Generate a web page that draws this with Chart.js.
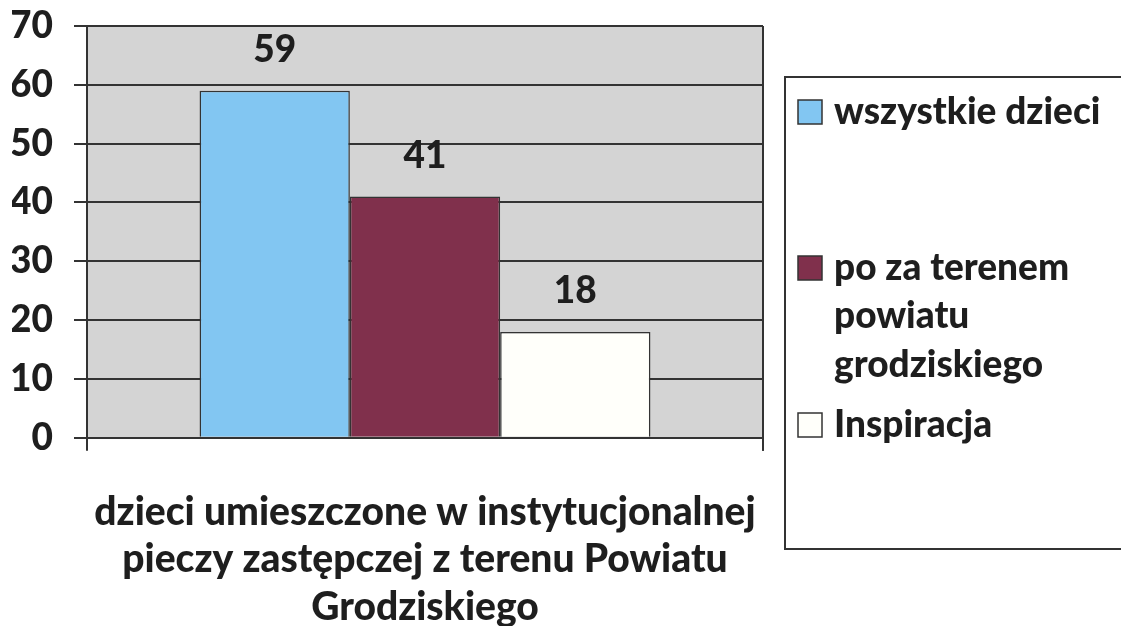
<!DOCTYPE html>
<html>
<head>
<meta charset="utf-8">
<script src="https://cdn.jsdelivr.net/npm/chart.js@4"></script>
<style>
  body { margin: 0; background: #fff; }
  #wrap { width: 1121px; height: 626px; position: relative; }
</style>
</head>
<body>
<div id="wrap"><canvas id="myChart"></canvas></div>
<script>
const categories = [""];
const seriesNames = ["wszystkie dzieci", "po za terenem powiatu grodziskiego", "Inspiracja"];
const seriesValues = [[59], [41], [18]];
const seriesColors = ["#82c6f2", "#80304c", "#fffffa"];
const axisTitle = ["dzieci umieszczone w instytucjonalnej", "pieczy zastępczej z terenu Powiatu", "Grodziskiego"];

const FONT = "Lato, 'Open Sans', sans-serif";
const WEIGHT = "900";
const INK = "#1e1e1e";

// grey plot background and right border
const plotBox = {
    id: "plotBox",
    beforeDraw(chart) {
        const { ctx, chartArea: a } = chart;
        ctx.save();
        ctx.fillStyle = "#d4d4d4";
        ctx.fillRect(a.left, a.top, a.right - a.left, a.bottom - a.top);
        ctx.restore();
    },
    afterDraw(chart) {
        const { ctx, chartArea: a } = chart;
        ctx.save();
        ctx.strokeStyle = "#333";
        ctx.lineWidth = 2;
        ctx.beginPath();
        ctx.moveTo(a.right, a.top);
        ctx.lineTo(a.right, a.bottom + 13);
        ctx.stroke();
        ctx.restore();
    }
};

// value labels above bars
const valueLabels = {
    id: "valueLabels",
    afterDatasetsDraw(chart) {
        const { ctx } = chart;
        ctx.save();
        ctx.font = WEIGHT + " 37px " + FONT;
        ctx.fillStyle = INK;
        ctx.textAlign = "center";
        ctx.textBaseline = "middle";
        chart.data.datasets.forEach((ds, i) => {
            chart.getDatasetMeta(i).data.forEach((bar, j) => {
                ctx.fillText(String(ds.data[j]), bar.x, bar.y - 41);
            });
        });
        ctx.restore();
    }
};

// boxed legend on the right, with wrapped labels
const boxLegend = {
    id: "boxLegend",
    afterDraw(chart) {
        const { ctx } = chart;
        const left = 785, top = 77, bottom = 549;
        const rowY = [112, 268, 425];
        const lineH = 48.5;
        const maxW = 280;
        ctx.save();
        ctx.strokeStyle = "#333";
        ctx.lineWidth = 2;
        ctx.strokeRect(left, top, 400, bottom - top);
        ctx.font = WEIGHT + " 37px " + FONT;
        ctx.textBaseline = "middle";
        chart.data.datasets.forEach((ds, i) => {
            const words = ds.label.split(" ");
            const lines = [];
            let cur = "";
            words.forEach(w => {
                const t = cur ? cur + " " + w : w;
                if (cur && ctx.measureText(t).width > maxW) { lines.push(cur); cur = w; }
                else cur = t;
            });
            lines.push(cur);
            const y = rowY[i];
            ctx.fillStyle = ds.backgroundColor;
            ctx.fillRect(798, y - 12, 24, 24);
            ctx.strokeStyle = "#333";
            ctx.lineWidth = 1.5;
            ctx.strokeRect(798, y - 12, 24, 24);
            ctx.fillStyle = INK;
            lines.forEach((ln, k) => ctx.fillText(ln, 834, y + k * lineH));
        });
        ctx.restore();
    }
};

new Chart("myChart", {
    type: "bar",
    data: {
        labels: categories,
        datasets: seriesNames.map((name, i) => ({
            label: name,
            data: seriesValues[i],
            backgroundColor: seriesColors[i],
            borderColor: "#333",
            borderWidth: 1.5,
            categoryPercentage: 0.667,
            barPercentage: 1
        }))
    },
    options: {
        responsive: true,
        maintainAspectRatio: false,
        animation: false,
        layout: { padding: { left: 12, right: 358, top: 26, bottom: 0 } },
        plugins: {
            legend: { display: false },
            tooltip: { enabled: false }
        },
        scales: {
            x: {
                grid: { display: true, drawOnChartArea: false, color: "#333", lineWidth: 2, tickLength: 13 },
                border: { color: "#333", width: 2 },
                ticks: { display: false },
                title: {
                    display: true,
                    text: axisTitle,
                    color: INK,
                    font: { family: FONT, size: 39, weight: WEIGHT, lineHeight: 1.22 },
                    padding: { top: 37.5, bottom: -5 }
                }
            },
            y: {
                min: 0,
                max: 70,
                afterFit(scale) {
                    scale.width = 75;
                    scale.paddingTop = 10;
                    scale.paddingBottom = 10;
                },
                grid: { color: "#333", lineWidth: 2, tickLength: 13 },
                border: { color: "#333", width: 2 },
                ticks: {
                    stepSize: 10,
                    padding: 21,
                    color: INK,
                    font: { family: FONT, size: 37, weight: WEIGHT }
                }
            }
        }
    },
    plugins: [plotBox, valueLabels, boxLegend]
});
</script>
</body>
</html>
